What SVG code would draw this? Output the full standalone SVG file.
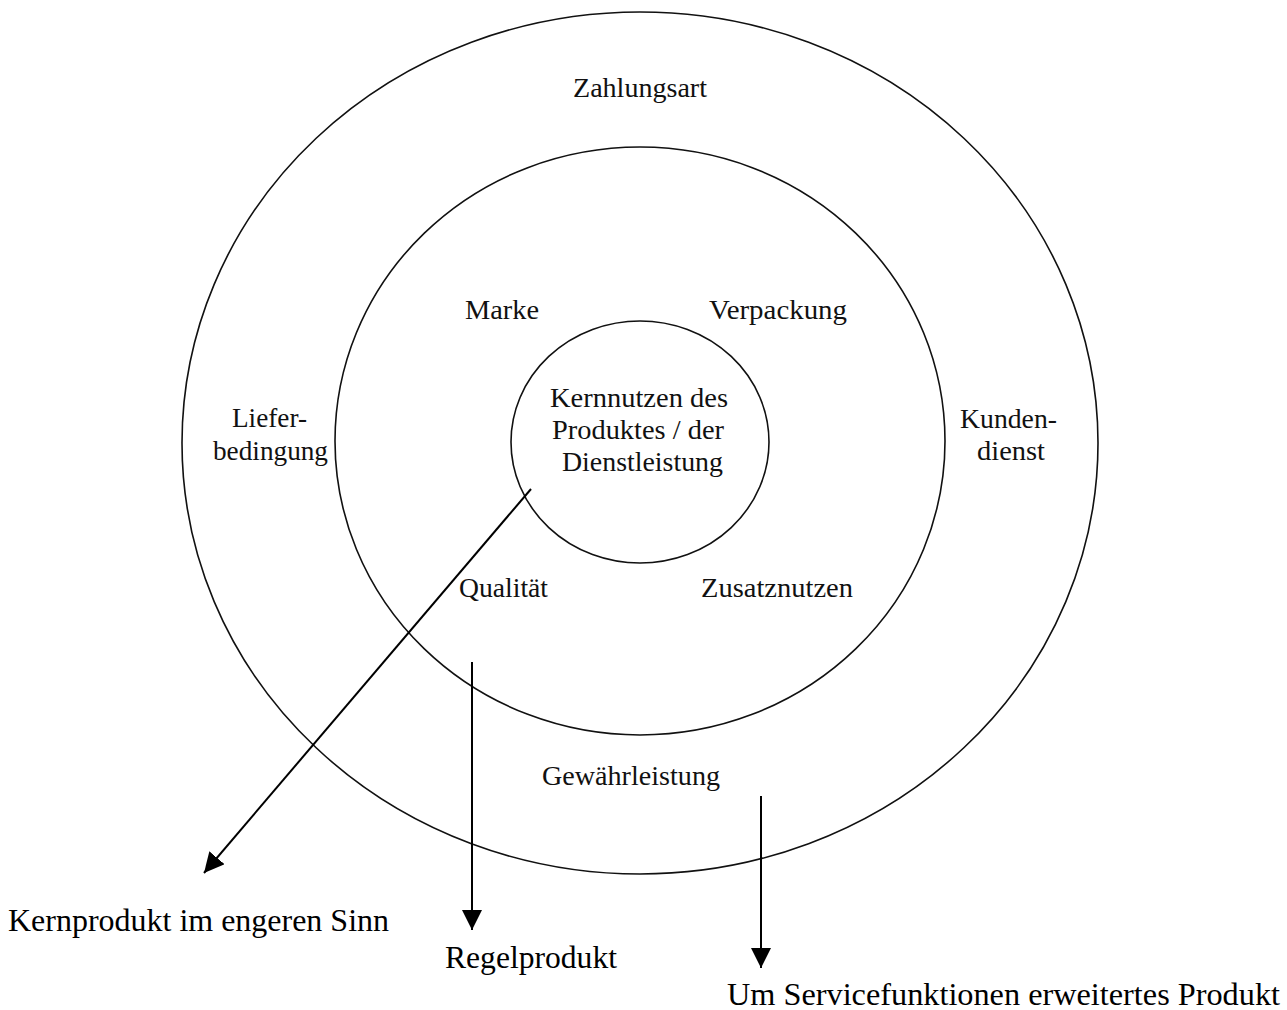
<svg xmlns="http://www.w3.org/2000/svg" width="1287" height="1010" viewBox="0 0 1287 1010">
<style>
.ring{fill:none;stroke:#111;stroke-width:1.6}
.lbl{font-family:"Liberation Serif","Times New Roman",serif;font-size:27px;fill:#111}
.big{font-family:"Liberation Serif","Times New Roman",serif;font-size:32px;fill:#000}
.conn{stroke:#000;stroke-width:2;fill:none}
</style>
<defs>
<marker id="ahb" viewBox="0 0 20 20" refX="20" refY="10" markerWidth="20" markerHeight="20" markerUnits="userSpaceOnUse" orient="auto">
<path d="M0,0 L20,10 L0,20 Z" fill="#000"/>
</marker>
</defs>
<rect width="1287" height="1010" fill="#fff"/>
<g id="outer-ring">
<ellipse class="ring" cx="640" cy="443" rx="458" ry="431"/>
<text class="lbl" x="573" y="97" textLength="134" lengthAdjust="spacingAndGlyphs">Zahlungsart</text>
<text class="lbl" x="232" y="427" textLength="75" lengthAdjust="spacingAndGlyphs">Liefer-</text>
<text class="lbl" x="213" y="460" textLength="115" lengthAdjust="spacingAndGlyphs">bedingung</text>
<text class="lbl" x="960" y="428" textLength="97" lengthAdjust="spacingAndGlyphs">Kunden-</text>
<text class="lbl" x="977" y="460" textLength="68" lengthAdjust="spacingAndGlyphs">dienst</text>
<text class="lbl" x="542" y="785" textLength="178" lengthAdjust="spacingAndGlyphs">Gewährleistung</text>
</g>
<g id="middle-ring">
<ellipse class="ring" cx="640" cy="441" rx="305" ry="294"/>
<text class="lbl" x="465" y="319" textLength="74" lengthAdjust="spacingAndGlyphs">Marke</text>
<text class="lbl" x="709" y="319" textLength="138" lengthAdjust="spacingAndGlyphs">Verpackung</text>
<text class="lbl" x="459" y="597" textLength="89" lengthAdjust="spacingAndGlyphs">Qualität</text>
<text class="lbl" x="701" y="597" textLength="152" lengthAdjust="spacingAndGlyphs">Zusatznutzen</text>
</g>
<g id="inner-ring">
<ellipse class="ring" cx="640" cy="442" rx="129" ry="121"/>
<text class="lbl" x="550" y="407" textLength="178" lengthAdjust="spacingAndGlyphs">Kernnutzen des</text>
<text class="lbl" x="552" y="439" textLength="172" lengthAdjust="spacingAndGlyphs">Produktes / der</text>
<text class="lbl" x="562" y="471" textLength="161" lengthAdjust="spacingAndGlyphs">Dienstleistung</text>
</g>
<g id="connectors">
<line class="conn" x1="531" y1="489" x2="204" y2="873" marker-end="url(#ahb)"/>
<line class="conn" x1="472" y1="662" x2="472" y2="930" marker-end="url(#ahb)"/>
<line class="conn" x1="761" y1="796" x2="761" y2="968" marker-end="url(#ahb)"/>
</g>
<g id="label-kernprodukt">
<text class="big" x="8" y="931" textLength="381" lengthAdjust="spacingAndGlyphs">Kernprodukt im engeren Sinn</text>
</g>
<g id="label-regelprodukt">
<text class="big" x="445" y="968" textLength="172" lengthAdjust="spacingAndGlyphs">Regelprodukt</text>
</g>
<g id="label-erweitert">
<text class="big" x="727" y="1005" textLength="553" lengthAdjust="spacingAndGlyphs">Um Servicefunktionen erweitertes Produkt</text>
</g>
</svg>
